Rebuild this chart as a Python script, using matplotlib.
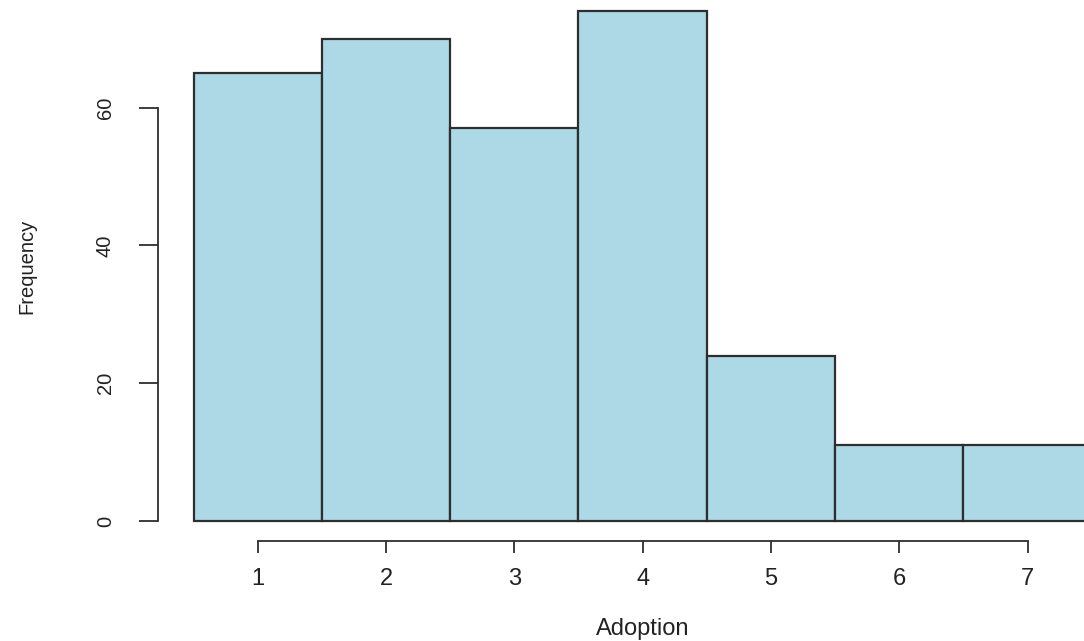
import matplotlib.pyplot as plt

# Adoption scores and how often each was given
adoption = [1, 2, 3, 4, 5, 6, 7]
frequency = [65, 70, 57, 74, 24, 11, 11]
y_ticks = [0, 20, 40, 60]

plt.rcParams['font.family'] = ['Liberation Sans', 'DejaVu Sans']
edge = '#2e2e2e'

fig = plt.figure(figsize=(10.84, 6.41), dpi=100)
# R-style plot region, a bit wider than the figure on the right
ax = fig.add_axes([0.1454, 0.1554, 0.8948, 0.859])

ax.bar(adoption, frequency, width=1.0, color='#ADD8E6', edgecolor=edge, linewidth=1.6)

ax.set_xlim(0.22, 7.78)
ax.set_ylim(-2.96, 76.96)

for side in ['top', 'right']:
    ax.spines[side].set_visible(False)
ax.spines['left'].set_bounds(0, 60)
ax.spines['bottom'].set_bounds(1, 7)
ax.spines['left'].set_color(edge)
ax.spines['bottom'].set_color(edge)
ax.spines['left'].set_linewidth(1.3)
ax.spines['bottom'].set_linewidth(1.3)

ax.set_xticks(adoption)
ax.set_yticks(y_ticks)
ax.tick_params(axis='x', direction='out', length=8.4, width=1.3, color=edge,
               pad=11, labelsize=17, labelcolor='#222222')
ax.tick_params(axis='y', direction='out', length=13.7, width=1.3, color=edge,
               pad=17, labelsize=14.5, labelcolor='#222222', labelrotation=90)
for lbl in ax.get_yticklabels():
    lbl.set_verticalalignment('center')

ax.set_xlabel('Adoption', fontsize=17, color='#222222', labelpad=20)
ax.set_ylabel('Frequency', fontsize=14.5, color='#222222', labelpad=43)

fig.savefig('out.png', dpi=100)
